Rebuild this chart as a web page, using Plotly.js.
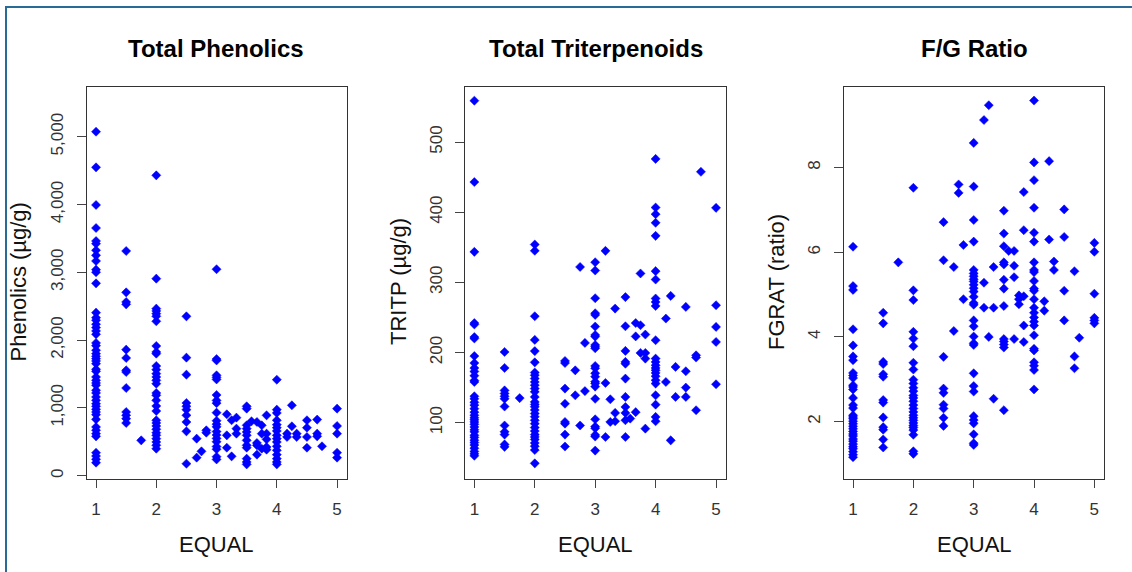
<!DOCTYPE html>
<html>
<head>
<meta charset="utf-8">
<script src="https://cdn.plot.ly/plotly-3.0.1.min.js"></script>
<style>
  html, body { margin: 0; padding: 0; background: #ffffff; }
  #chart { width: 1132px; height: 572px; }
</style>
</head>
<body>
<div id="chart"></div>
<script>
// ---------- DATA ----------
// EQUAL levels (x positions of point columns)
const equalLevels = [1, 1.5, 1.75, 2, 2.5, 2.67, 2.75, 2.83, 3, 3.17, 3.25, 3.33, 3.5, 3.58, 3.67, 3.75, 3.83, 4, 4.17, 4.25, 4.33, 4.5, 4.67, 4.75, 5];

// Total Phenolics (µg/g), one list per EQUAL level
const phenolics = [
  [5074, 4548, 3993, 3653, 3461, 3422, 3324, 3250, 3167, 3039, 3000, 2837, 2405, 2331, 2292, 2233, 2184, 2135, 2085, 1958, 1918, 1849, 1800, 1761, 1726, 1692, 1652, 1569, 1539, 1456, 1406, 1367, 1333, 1259, 1220, 1161, 1111, 1062, 1023, 978, 939, 900, 831, 718, 669, 620, 580, 339, 290, 241, 192],
  [3314, 2704, 2562, 2527, 1859, 1736, 1554, 1529, 1293, 939, 890, 841, 777],
  [521],
  [4430, 2906, 2464, 2430, 2390, 2351, 2277, 1913, 1825, 1800, 1618, 1564, 1505, 1456, 1406, 1357, 1220, 1185, 1111, 1028, 954, 817, 777, 733, 684, 634, 595, 546, 497, 448, 398],
  [2350, 1741, 1490, 1072, 1023, 974, 890, 792, 654, 177],
  [546, 266],
  [359],
  [669, 634],
  [3045, 1720, 1700, 1480, 1450, 1420, 1190, 1110, 1070, 930, 810, 760, 720, 650, 600, 550, 500, 430, 390, 280, 240],
  [905, 595, 413],
  [817, 285],
  [856, 694, 620],
  [1023, 989, 743, 694, 645, 595, 521, 448, 413, 251, 202, 167],
  [802],
  [792, 482, 448, 310],
  [743, 620, 398],
  [890, 620, 536, 423, 384],
  [1416, 974, 925, 817, 753, 708, 659, 595, 546, 497, 433, 374, 310, 251, 202, 167],
  [620, 571],
  [1038, 728],
  [620, 571],
  [817, 708, 571, 413],
  [827, 620, 580],
  [433],
  [989, 733, 620, 339, 266]
];

// Total Triterpenoids TRITP (µg/g)
const tritp = [
  [559, 443, 343.5, 242, 240, 222, 220, 195, 185, 178, 173, 167, 160, 158, 137.6, 134, 129, 125, 120, 115, 110.5, 107, 104, 101, 97.7, 94, 90, 87, 82, 79, 75, 71.6, 68, 63.5, 59, 55.6, 52.8],
  [200.8, 178, 146, 141.6, 137.6, 134, 123, 96, 87, 83, 69, 65.5],
  [135],
  [354, 345, 251.7, 218, 202, 186, 171.5, 167.6, 162.9, 158, 153.4, 148.6, 143.9, 136.7, 129.6, 126, 122.6, 118, 113, 108.5, 103.4, 98.6, 93, 88, 83, 79.5, 76, 71, 66.5, 61, 42],
  [188, 185, 148.6, 127, 101, 98.6, 83, 66],
  [174.6, 139],
  [322, 96],
  [213.7, 145],
  [328.7, 316.9, 277.4, 256, 253.6, 237, 225, 222.7, 210.8, 208.4, 206, 180.8, 177.5, 170.4, 165.6, 158.5, 156, 151.4, 134, 104.8, 94.4, 92, 82.6, 80.2, 60.2],
  [344.9, 156.6, 79.6],
  [133.3, 101],
  [262.6, 113.9, 102],
  [279, 237.4, 202.3, 186.6, 184, 162.8, 136.7, 122.4, 113.9, 103.4, 79.6],
  [105.8],
  [242, 223, 115],
  [312.7, 238.9, 199.4],
  [225.6, 199.4, 191.3, 91.5],
  [476, 406.7, 397.2, 384.9, 366.3, 316, 304, 277, 272, 266.4, 217.5, 191.3, 186.6, 181.8, 178, 174.7, 170.9, 166.2, 160.5, 155.7, 139, 125.7, 108.2, 102],
  [248.4, 158],
  [280.7, 74.8],
  [179.5, 136.7],
  [265, 173.3, 150, 136.7],
  [196, 192.8, 117.7],
  [457.6],
  [406.2, 267.4, 236.5, 215.1, 154.7]
];

// F/G Ratio FGRAT
const fgrat = [
  [6.13, 5.20, 5.11, 4.18, 3.80, 3.54, 3.45, 3.15, 3.09, 3.03, 2.86, 2.82, 2.76, 2.56, 2.39, 2.32, 2.15, 2.11, 2.07, 2.01, 1.95, 1.89, 1.83, 1.77, 1.71, 1.66, 1.59, 1.54, 1.47, 1.41, 1.36, 1.29, 1.22, 1.16],
  [4.57, 4.32, 3.41, 3.36, 3.12, 3.06, 2.51, 2.45, 2.10, 1.87, 1.81, 1.58, 1.39],
  [5.76],
  [7.52, 5.10, 4.87, 4.12, 3.96, 3.78, 3.39, 3.23, 2.99, 2.90, 2.80, 2.72, 2.62, 2.56, 2.48, 2.39, 2.31, 2.23, 2.15, 2.09, 2.03, 1.97, 1.91, 1.86, 1.80, 1.69, 1.30, 1.24],
  [6.71, 5.81, 3.53, 2.78, 2.68, 2.40, 2.31, 2.09, 1.90],
  [5.65, 4.14],
  [7.60, 7.40],
  [6.17, 4.89],
  [8.58, 7.55, 6.76, 6.25, 5.58, 5.50, 5.43, 5.36, 5.31, 5.23, 5.15, 5.07, 4.95, 4.80, 4.76, 4.39, 4.25, 4.01, 3.85, 3.81, 3.14, 2.84, 2.71, 2.13, 2.04, 1.96, 1.70, 1.49, 1.45],
  [9.12, 5.28, 4.69],
  [9.47, 4.00],
  [5.65, 4.69, 2.54],
  [6.98, 6.44, 6.14, 5.76, 5.71, 5.35, 5.14, 4.73, 3.95, 3.89, 3.82, 3.75, 2.27],
  [6.03],
  [6.03, 5.68, 5.41, 3.95],
  [4.98, 4.89, 4.77],
  [7.42, 6.52, 4.96, 4.27, 3.88],
  [9.58, 8.12, 7.70, 7.05, 6.46, 6.25, 5.76, 5.58, 5.53, 5.32, 5.14, 5.09, 4.89, 4.69, 4.57, 4.46, 4.36, 4.27, 4.04, 3.72, 3.68, 3.40, 3.32, 3.22, 2.76],
  [4.84, 4.62],
  [8.15, 6.30],
  [5.78, 5.58],
  [7.01, 6.36, 5.09, 4.39],
  [5.55, 3.54, 3.26],
  [3.98],
  [6.22, 6.01, 5.02, 4.45, 4.39, 4.32]
];

const panelTitles = ["Total Phenolics", "Total Triterpenoids", "F/G Ratio"];
const yTitles = ["Phenolics (\u00b5g/g)", "TRITP (\u00b5g/g)", "FGRAT (ratio)"];
const xTitle = "EQUAL";
const xTicks = [1, 2, 3, 4, 5];
const phenTicks = [0, 1000, 2000, 3000, 4000, 5000];
const tritpTicks = [100, 200, 300, 400, 500];
const fgratTicks = [2, 4, 6, 8];

// ---------- BUILD ----------
function flatten(levels, groups) {
  const xs = [], ys = [];
  groups.forEach((g, i) => g.forEach(v => { xs.push(levels[i]); ys.push(v); }));
  return {x: xs, y: ys};
}

const W = 1132, H = 572;
const FONT = "Liberation Sans, Arial, Helvetica, sans-serif";
const marker = {symbol: 'diamond', size: 7, color: '#0000ff', line: {width: 0.5, color: '#0000ff'}};

const sets = [phenolics, tritp, fgrat];
const traces = sets.map((s, i) => {
  const d = flatten(equalLevels, s);
  return {
    type: 'scatter', mode: 'markers', x: d.x, y: d.y,
    xaxis: i === 0 ? 'x' : 'x' + (i + 1),
    yaxis: i === 0 ? 'y' : 'y' + (i + 1),
    marker: marker, hoverinfo: 'x+y', cliponaxis: false
  };
});

// pixel geometry of the plot boxes
const boxes = [[87, 347], [465.3, 726], [844, 1104.3]];
const boxTop = 87, boxBottom = 479;
const yDomain = [1 - boxBottom / H, 1 - boxTop / H];

function xAxis(i) {
  return {
    domain: [boxes[i][0] / W, boxes[i][1] / W],
    range: [0.85, 5.165],
    anchor: i === 0 ? 'y' : 'y' + (i + 1),
    tickmode: 'array', tickvals: xTicks, ticktext: xTicks.map(String),
    ticks: 'outside', ticklen: 8, tickwidth: 1, tickcolor: '#444',
    showline: true, mirror: true, linecolor: '#333', linewidth: 1,
    showgrid: false, zeroline: false,
    tickfont: {family: FONT, size: 17, color: '#333'},
    ticklabelstandoff: 7,
    fixedrange: true
  };
}
function yAxis(i, range, ticks, fmt) {
  return {
    domain: yDomain,
    range: range,
    anchor: i === 0 ? 'x' : 'x' + (i + 1),
    tickmode: 'array', tickvals: ticks,
    ticktext: ticks.map(v => fmt(v)),
    tickangle: -90,
    ticks: 'outside', ticklen: 9, tickwidth: 1, tickcolor: '#444',
    showline: true, mirror: true, linecolor: '#333', linewidth: 1,
    showgrid: false, zeroline: false,
    tickfont: {family: FONT, size: 17, color: '#333'},
    ticklabelstandoff: 7,
    fixedrange: true
  };
}

const annotations = [];
const titleX = [216, 595.6, 974];
const yTitleX = [17.5, 398, 776];
for (let i = 0; i < 3; i++) {
  annotations.push({
    xref: 'paper', yref: 'paper', x: titleX[i] / W, y: 1 - 49 / H,
    xanchor: 'center', yanchor: 'middle', showarrow: false,
    text: '<b>' + panelTitles[i] + '</b>',
    font: {family: FONT, size: 24, color: '#000'}
  });
  annotations.push({
    xref: 'paper', yref: 'paper', x: titleX[i] / W, y: 1 - 544 / H,
    xanchor: 'center', yanchor: 'middle', showarrow: false,
    text: xTitle, font: {family: FONT, size: 22, color: '#111'}
  });
  annotations.push({
    xref: 'paper', yref: 'paper', x: yTitleX[i] / W, y: 1 - 282 / H,
    xanchor: 'center', yanchor: 'middle', showarrow: false, textangle: -90,
    text: yTitles[i], font: {family: FONT, size: 22, color: '#111'}
  });
}

const frameColor = '#2a6b95';
const layout = {
  width: W, height: H,
  margin: {l: 0, r: 0, t: 0, b: 0},
  paper_bgcolor: '#ffffff', plot_bgcolor: '#ffffff',
  showlegend: false,
  xaxis: xAxis(0), xaxis2: xAxis(1), xaxis3: xAxis(2),
  yaxis: yAxis(0, [-49, 5733], phenTicks, v => v.toLocaleString('en-US')),
  yaxis2: yAxis(1, [19.7, 578.5], tritpTicks, v => String(v)),
  yaxis3: yAxis(2, [0.646, 9.9], fgratTicks, v => String(v)),
  annotations: annotations,
  shapes: [
    {type: 'line', xref: 'paper', yref: 'paper', x0: 6 / W, x1: 6 / W, y0: 0, y1: 1 - 6 / H,
     line: {color: frameColor, width: 2}},
    {type: 'line', xref: 'paper', yref: 'paper', x0: 5 / W, x1: 1, y0: 1 - 7 / H, y1: 1 - 7 / H,
     line: {color: frameColor, width: 2}}
  ]
};

Plotly.newPlot('chart', traces, layout, {displayModeBar: false, staticPlot: true});
</script>
</body>
</html>
